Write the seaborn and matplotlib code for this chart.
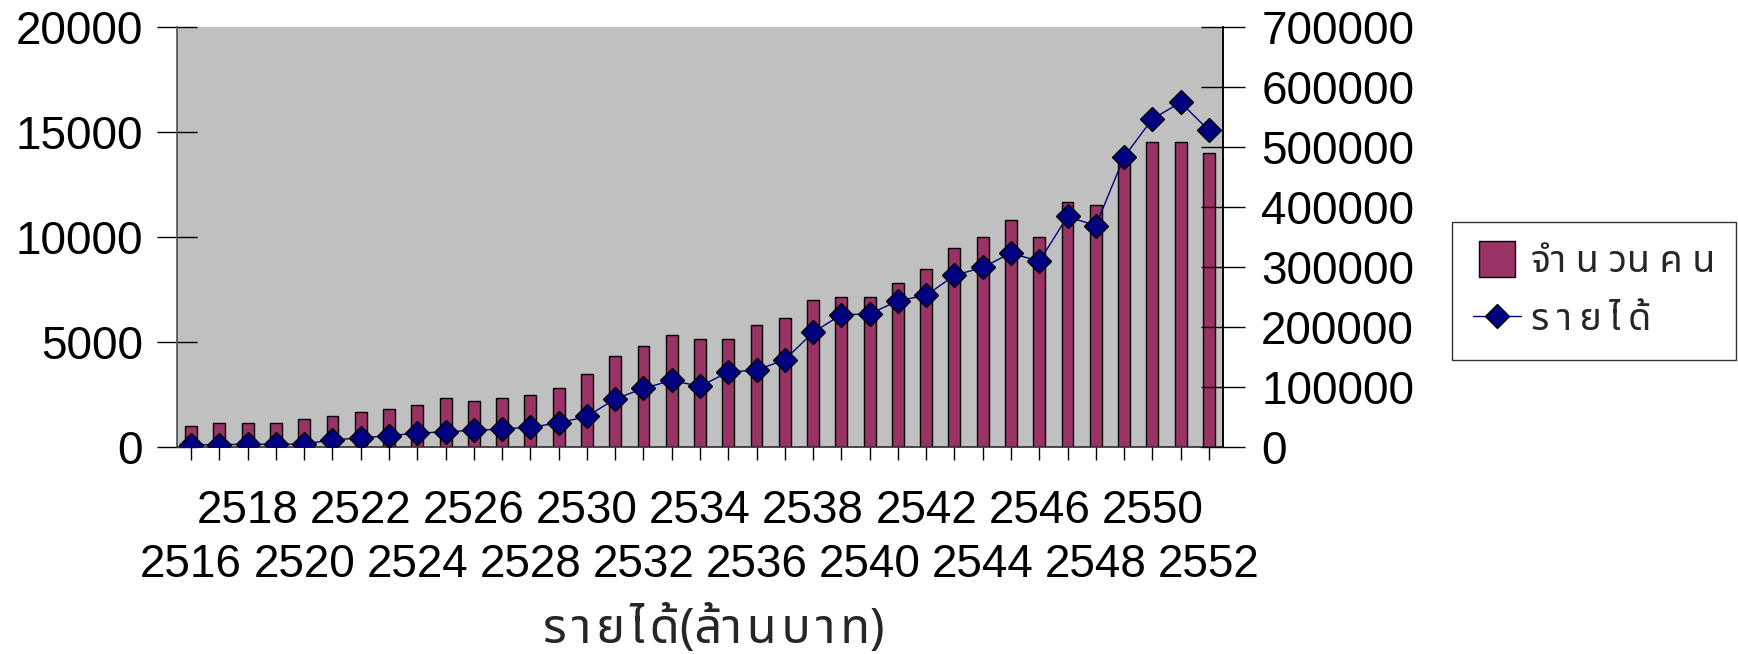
import numpy as np
import pandas as pd
import seaborn as sns
import matplotlib
matplotlib.use("Agg")
import matplotlib.pyplot as plt
from matplotlib import font_manager
from matplotlib.lines import Line2D
from matplotlib.patches import Patch, Rectangle
from matplotlib.legend_handler import HandlerPatch

# ---------------- data ----------------
years = list(range(2516, 2553))
people = [1000, 1150, 1150, 1150, 1350, 1500, 1670, 1820, 2000, 2330,
          2170, 2330, 2490, 2820, 3490, 4320, 4830, 5310, 5160, 5160,
          5820, 6160, 6980, 7160, 7160, 7820, 8500, 9490, 9980, 10820,
          10000, 11670, 11510, 13700, 14530, 14530, 14000]
income = [3500, 4000, 4500, 4500, 5000, 12000, 15000, 19000, 23000, 25500,
          27700, 30000, 33000, 40000, 51000, 80000, 97700, 111000, 101000, 125000,
          128000, 145500, 191000, 220500, 221700, 243800, 252700, 286000, 299300, 323300,
          309300, 384300, 368800, 483300, 546700, 574300, 527700]
left_ticks = [0, 5000, 10000, 15000, 20000]
right_ticks = [0, 100000, 200000, 300000, 400000, 500000, 600000, 700000]
label_people = "จำ น วน ค น"
label_income = "ร\u2009า\u2009ย\u2009ไ\u2009ด้"
xlabel = "ร\u200aา\u200aย\u200aไ\u200aด้(ล้า\u200aน\u200aบ\u200aา\u200aท)"

# ---------------- fonts ----------------
def find_thai_family():
    try:
        from fontTools.ttLib import TTFont
    except Exception:
        return None
    cands = []
    for f in font_manager.fontManager.ttflist:
        try:
            kw = {"fontNumber": 0} if f.fname.lower().endswith((".ttc", ".otc")) else {}
            tt = TTFont(f.fname, lazy=True, **kw)
            cmap = tt.getBestCmap()
            if cmap and 0x0E23 in cmap and 0x0E49 in cmap and 0x0E32 in cmap:
                cands.append(f.name)
        except Exception:
            pass
    if not cands:
        return None
    pref = ["Noto Sans Thai", "Noto Sans Thai UI", "Loma", "Garuda", "Tahoma", "Norasi"]
    for p in pref:
        if p in cands:
            return p
    return cands[0]

sns.set_theme(style="white")
thai = find_thai_family()
fams = ["Liberation Sans", "DejaVu Sans"]
thai_fams = ([thai] if thai else []) + ["DejaVu Sans", "Liberation Sans"]
plt.rcParams["font.family"] = fams

# ---------------- figure ----------------
W, H = 1738, 654
fig = plt.figure(figsize=(W / 100, H / 100), dpi=100)
fig.patch.set_facecolor("white")
ax = fig.add_axes([177 / W, 1 - 447 / H, (1223 - 177) / W, (447 - 27) / H])
ax.set_facecolor("#C0C0C0")

df = pd.DataFrame({"year": [str(y) for y in years], "people": people, "income": income})
sns.barplot(data=df, x="year", y="people", ax=ax, color="#993366",
            width=0.42, edgecolor="black", linewidth=1.0, saturation=1)

ax2 = ax.twinx()
sns.lineplot(x=np.arange(len(years)), y=income, ax=ax2, color="#000080",
             linewidth=1.0, marker="D", markersize=12, markerfacecolor="#000080",
             markeredgecolor="black", markeredgewidth=1.0)

n = len(years)
ax.set_xlim(-0.5, n - 0.5)
ax.set_ylim(0, 20000)
ax2.set_ylim(0, 700000)
ax.set_yticks(left_ticks)
ax.set_yticklabels([str(v) for v in left_ticks])
ax2.set_yticks(right_ticks)
ax2.set_yticklabels([str(v) for v in right_ticks])

# upper row of year labels (2518, 2522, ...) on the main axis, tick marks at every year
upper = [str(y) if i % 4 == 2 else "" for i, y in enumerate(years)]
ax.set_xticks(np.arange(n))
ax.set_xticklabels(upper, fontsize=33)
ax.set_xlabel("")
ax.set_ylabel("")
ax2.set_ylabel("")

# lower row of year labels (2516, 2520, ...) on a secondary x axis
sec = ax.secondary_xaxis("bottom")
low_pos = [i for i in range(n) if i % 4 == 0]
sec.set_xticks(low_pos)
sec.set_xticklabels([str(years[i]) for i in low_pos], fontsize=33)
sec.tick_params(axis="x", length=0, pad=69, colors="black")
sec.spines["bottom"].set_visible(False)
sec.set_xlabel(xlabel, fontsize=35, family=thai_fams, labelpad=13)
sec.xaxis.label.set_x(0.513)

ax.tick_params(axis="y", direction="inout", length=29, width=1, labelsize=33,
               pad=10, colors="black", left=True)
ax.tick_params(axis="x", direction="out", length=9, width=1, pad=21, bottom=True,
               colors="black")
ax2.tick_params(axis="y", direction="inout", length=31, width=1, labelsize=33,
                pad=12, right=True, colors="black")

for a in (ax, ax2):
    a.grid(False)
    a.spines["top"].set_visible(False)
ax.spines["left"].set_color("#555555")
ax.spines["bottom"].set_color("#333333")
ax2.spines["right"].set_visible(True)
ax2.spines["right"].set_color("black")
ax2.spines["left"].set_visible(False)
ax2.spines["bottom"].set_visible(False)


def small_square(legend, orig_handle, xdescent, ydescent, width, height, fontsize):
    side_w = width * 0.72
    side_h = height * 1.15
    return Rectangle((-xdescent + (width - side_w) / 2, -ydescent + (height - side_h) / 2),
                     side_w, side_h)


handles = [Patch(facecolor="#993366", edgecolor="black", linewidth=1.0),
           Line2D([], [], color="#000080", linewidth=1.0, marker="D", markersize=12,
                  markerfacecolor="#000080", markeredgecolor="black")]
leg = fig.legend(handles, [label_people, label_income], loc="upper left",
                 bbox_to_anchor=(1452 / W, 1 - 222 / H), frameon=True, fancybox=False,
                 prop={"family": thai_fams, "size": 27}, borderpad=0.55,
                 handlelength=1.3, handleheight=0.9, handletextpad=0.25,
                 labelspacing=0.55, borderaxespad=0,
                 handler_map={Patch: HandlerPatch(patch_func=small_square)})
leg.get_frame().set_edgecolor("black")
leg.get_frame().set_linewidth(1.0)

fig.savefig("out.png", dpi=100, facecolor="white")
